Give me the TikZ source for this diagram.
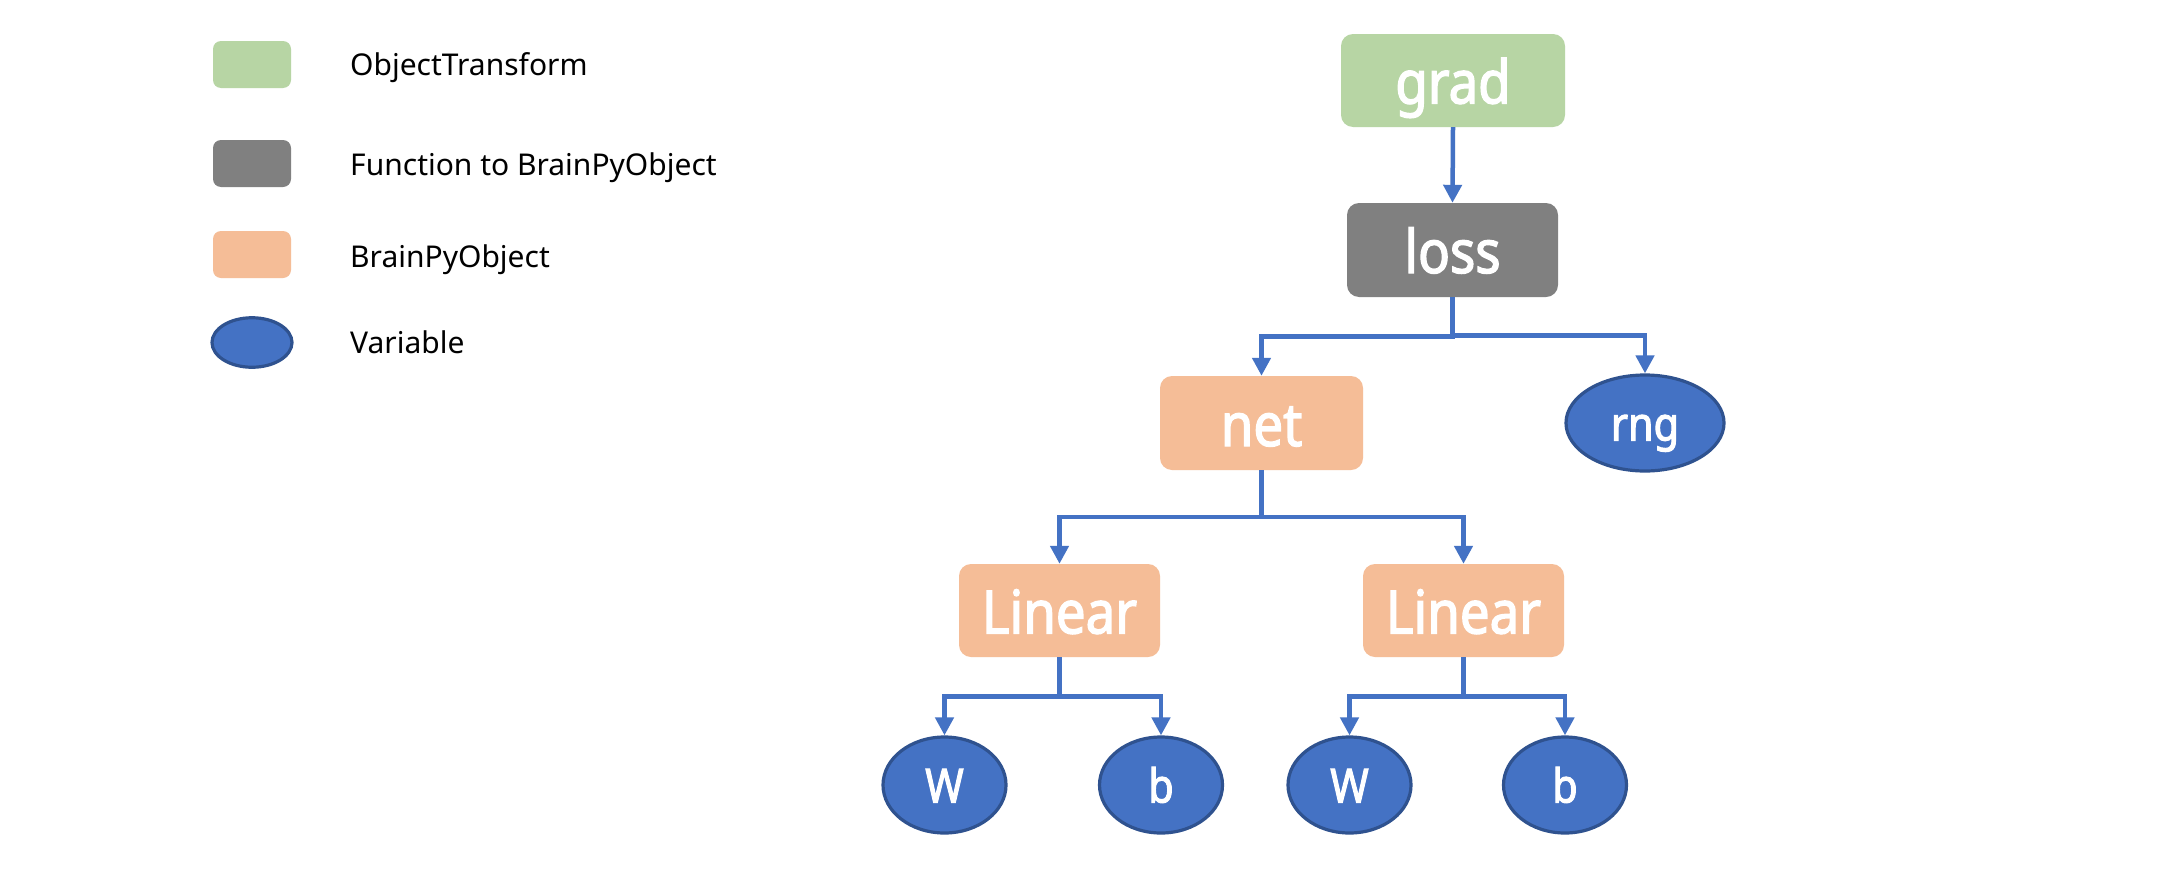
\documentclass[tikz,border=0pt]{standalone}
\usepackage{fontspec}
\setmainfont{Noto Sans}
\newfontfamily\lblfont[FakeStretch=0.88,FakeBold=2.2]{Noto Sans}
\usetikzlibrary{arrows.meta,shapes.geometric,calc}
\definecolor{cgreen}{HTML}{B7D5A4}
\definecolor{cgray}{HTML}{808080}
\definecolor{corange}{HTML}{F5BD97}
\definecolor{cblue}{HTML}{4472C4}
\definecolor{cblueb}{HTML}{2F528F}
\begin{document}
\begin{tikzpicture}[x=1pt,y=-1pt,
  box/.style={rectangle, rounded corners=12pt, inner sep=0pt, text=white,
    font=\lblfont\fontsize{60}{62}\selectfont, text height=46pt, text depth=0pt},
  var/.style={ellipse, draw=cblueb, line width=3.2pt, fill=cblue, inner sep=0pt, text=white,
    font=\lblfont\fontsize{47}{50}\selectfont, text height=35pt, text depth=0pt},
  legbox/.style={rectangle, rounded corners=8pt, minimum width=78pt, minimum height=47pt, inner sep=0pt},
  legtext/.style={anchor=base west, inner sep=0pt, font=\fontsize{30}{36}\selectfont},
  arr/.style={draw=cblue, line width=4.5pt, -{Triangle[width=18pt,length=18pt]}}
]
\path[use as bounding box, fill=white] (0,0) rectangle (2176,870);

% legend
\node[legbox, fill=cgreen] (lg1) at (252,64.5) {};
\node[legbox, fill=cgray] (lg2) at (252,163.5) {};
\node[legbox, fill=corange] (lg3) at (252,254.5) {};
\node[var, minimum width=80pt, minimum height=49pt] (lg4) at (252,342.5) {};
\node[legtext] (lt1) at (350,75) {ObjectTransform};
\node[legtext] (lt2) at (350,175) {Function to BrainPyObject};
\node[legtext] (lt3) at (350,267) {BrainPyObject};
\node[legtext] (lt4) at (350,353) {Variable};

% tree
\node[box, fill=cgreen, minimum width=224pt, minimum height=93pt] (grad) at (1453,80.5) {grad};
\node[box, fill=cgray, minimum width=211pt, minimum height=94pt] (loss) at (1452.5,250) {loss};
\node[box, fill=corange, minimum width=203pt, minimum height=94pt] (net) at (1261.5,423) {net};
\node[var, minimum width=158pt, minimum height=96pt] (rng) at (1645,423) {rng};
\node[box, fill=corange, minimum width=201pt, minimum height=93pt] (L1) at (1059.5,610.5) {Linear};
\node[box, fill=corange, minimum width=201pt, minimum height=93pt] (L2) at (1463.5,610.5) {Linear};
\node[var, minimum width=123pt, minimum height=96pt] (W1) at (944.5,785) {W};
\node[var, minimum width=123pt, minimum height=96pt] (b1) at (1161,785) {b};
\node[var, minimum width=123pt, minimum height=96pt] (W2) at (1349.5,785) {W};
\node[var, minimum width=123pt, minimum height=96pt] (b2) at (1565,785) {b};

\draw[arr] (grad.south) -- (loss.north);
\draw[arr] (loss.south) |- ($(loss.south)!0.5!(net.north)$) -| (net.north);
\draw[arr] (loss.south) |- ($(loss.south)!0.5!(rng.north)$) -| (rng.north);
\draw[arr] (net.south) |- ($(net.south)!0.5!(L1.north)$) -| (L1.north);
\draw[arr] (net.south) |- ($(net.south)!0.5!(L2.north)$) -| (L2.north);
\draw[arr] (L1.south) |- ($(L1.south)!0.5!(W1.north)$) -| (W1.north);
\draw[arr] (L1.south) |- ($(L1.south)!0.5!(b1.north)$) -| (b1.north);
\draw[arr] (L2.south) |- ($(L2.south)!0.5!(W2.north)$) -| (W2.north);
\draw[arr] (L2.south) |- ($(L2.south)!0.5!(b2.north)$) -| (b2.north);
\end{tikzpicture}
\end{document}
